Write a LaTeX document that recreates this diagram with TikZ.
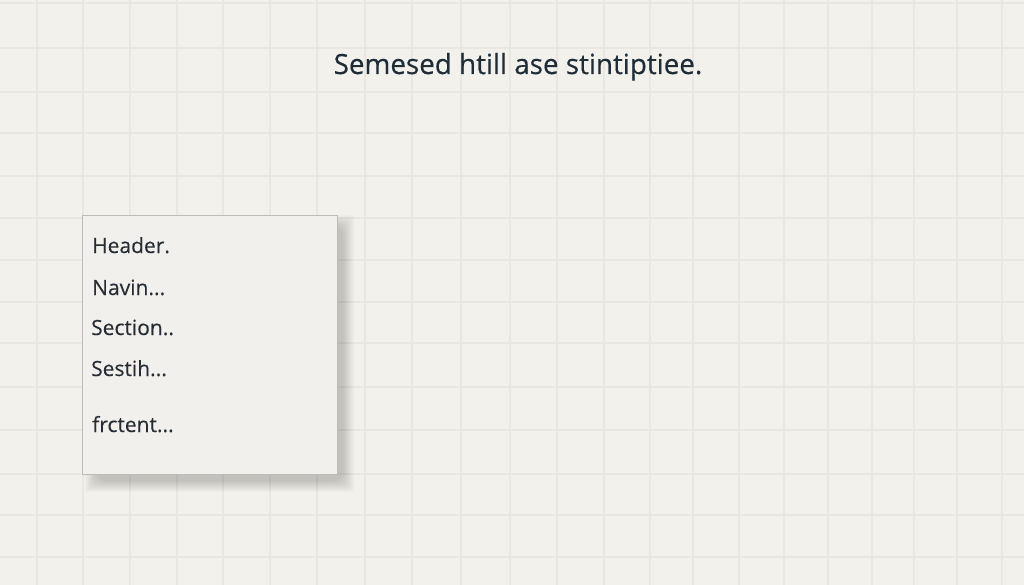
\documentclass[tikz,border=0pt]{standalone}
\usepackage{fontspec}
\setmainfont{Open Sans}
\definecolor{bgc}{HTML}{F3F1EC}
\definecolor{gridc}{HTML}{EAE7E2}
\definecolor{boxfill}{HTML}{F1F0EC}
\definecolor{boxline}{HTML}{BDBCB9}
\definecolor{titlec}{HTML}{1E2D38}
\definecolor{itemc}{HTML}{252C33}
\newfontfamily\titlefont[FakeBold=0.35]{Open Sans}
\newfontfamily\itemfont[FakeBold=0.2]{Open Sans}
\tikzset{
  gridline/.style={draw=gridc, line width=1.6pt},
  panel/.style={draw=boxline, fill=boxfill, line width=0.9pt},
  shadowlayer/.style={fill=black, fill opacity=0.014, draw=none},
  item/.style={anchor=base west, inner sep=0pt, text=itemc, font=\itemfont\fontsize{21}{25}\selectfont},
  title/.style={anchor=base, inner sep=0pt, text=titlec, font=\titlefont\fontsize{27.8}{32}\selectfont}
}
\begin{document}
\begin{tikzpicture}[x=1pt,y=-1pt]
\fill[bgc] (0,0) rectangle (1024,585);
\useasboundingbox (0,0) rectangle (1024,585);
\foreach \gx in {37,83,130,177,223,270,317,365,412,461,510,557,604,650,693,739,784,828,872,914,957,1002}
  \draw[gridline] (\gx,0) -- (\gx,585);
\foreach \gy in {3,48,92,133,176,218,260,302,343,387,430,474,515,557}
  \draw[gridline] (0,\gy) -- (1024,\gy);
\node[title] (title) at (518,74) {Semesed htill ase stintiptiee.};
% soft shadow
\foreach \s in {0,1,...,11}
  \fill[shadowlayer, rounded corners=\s pt] (96+\s-11, 226+\s-11) rectangle (343-\s+11, 481-\s+11);
\node[panel, minimum width=255pt, minimum height=259pt, inner sep=0pt, anchor=north west] (box) at (82,215) {};
\node[item] (i1) at (92,253) {Header.};
\node[item] (i2) at (92,295) {Navin...};
\node[item] (i3) at (91,335) {Section..};
\node[item] (i4) at (91,376) {Sestih...};
\node[item] (i5) at (92,432) {frctent...};
\end{tikzpicture}
\end{document}
